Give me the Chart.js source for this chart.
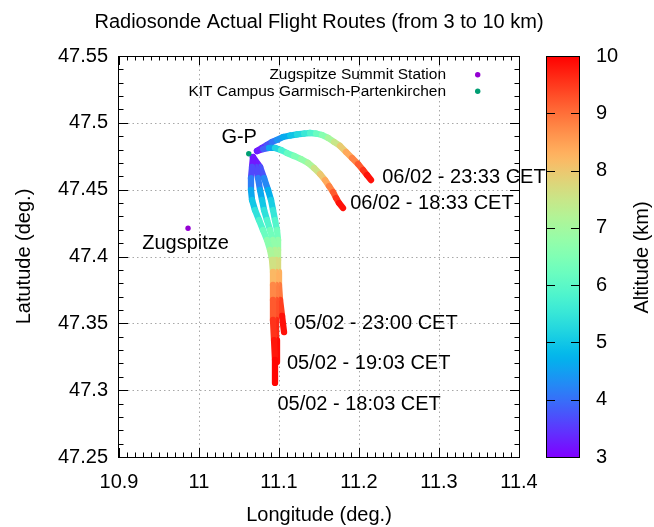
<!DOCTYPE html>
<html>
<head>
<meta charset="utf-8">
<title>Radiosonde Actual Flight Routes</title>
<script src="https://cdn.jsdelivr.net/npm/chart.js@4.4.1/dist/chart.umd.min.js"></script>
<style>
  html,body{margin:0;padding:0;background:#fff}
  #wrap{width:654px;height:527px}
</style>
</head>
<body>
<div id="wrap"><canvas id="c" width="654" height="527"></canvas></div>
<script>
// flight launched 05/02 18:03 CET
const f0502aLon = [11.0675, 11.0663, 11.0650, 11.0650, 11.0663, 11.0700, 11.0750, 11.0800, 11.0850, 11.0888, 11.0913, 11.0925, 11.0925, 11.0925, 11.0925, 11.0938, 11.0950, 11.0950];
const f0502aLat = [47.4744, 47.4670, 47.4587, 47.4498, 47.4423, 47.4348, 47.4273, 47.4198, 47.4124, 47.4049, 47.3974, 47.3884, 47.3787, 47.3675, 47.3525, 47.3375, 47.3226, 47.3054];
const f0502aAlt = [3.0, 3.4, 3.9, 4.4, 4.8, 5.2, 5.6, 6.0, 6.4, 6.9, 7.3, 7.9, 8.5, 9.0, 9.4, 9.7, 9.9, 10.0];

// 05/02 19:03 CET
const f0502bLon = [11.0675, 11.0713, 11.0738, 11.0763, 11.0788, 11.0813, 11.0850, 11.0888, 11.0925, 11.0950, 11.0963, 11.0963, 11.0963, 11.0963, 11.0963, 11.0963, 11.0975];
const f0502bLat = [47.4744, 47.4670, 47.4587, 47.4498, 47.4423, 47.4348, 47.4273, 47.4198, 47.4124, 47.4049, 47.3974, 47.3884, 47.3787, 47.3675, 47.3525, 47.3375, 47.3211];
const f0502bAlt = [3.0, 3.4, 3.9, 4.4, 4.8, 5.2, 5.6, 6.1, 6.5, 7.0, 7.4, 8.0, 8.6, 9.1, 9.5, 9.8, 10.0];

// 05/02 23:00 CET
const f0502cLon = [11.0675, 11.0763, 11.0813, 11.0863, 11.0900, 11.0925, 11.0950, 11.0975, 11.0988, 11.0988, 11.0988, 11.0988, 11.1000, 11.1013, 11.1038, 11.1063];
const f0502cLat = [47.4744, 47.4670, 47.4587, 47.4498, 47.4423, 47.4348, 47.4273, 47.4198, 47.4124, 47.4049, 47.3974, 47.3884, 47.3787, 47.3675, 47.3555, 47.3435];
const f0502cAlt = [3.0, 3.5, 4.0, 4.5, 4.9, 5.3, 5.7, 6.1, 6.5, 7.0, 7.4, 8.0, 8.6, 9.2, 9.7, 10.0];

// 06/02 18:33 CET
const f0602aLon = [11.0725, 11.0800, 11.0875, 11.0950, 11.1025, 11.1100, 11.1188, 11.1275, 11.1363, 11.1438, 11.1513, 11.1575, 11.1625, 11.1675, 11.1713, 11.1750, 11.1800];
const f0602aLat = [47.4789, 47.4804, 47.4812, 47.4812, 47.4797, 47.4774, 47.4752, 47.4729, 47.4700, 47.4662, 47.4617, 47.4572, 47.4527, 47.4483, 47.4438, 47.4400, 47.4363];
const f0602aAlt = [3.0, 3.5, 4.2, 4.9, 5.5, 6.0, 6.3, 6.6, 6.9, 7.3, 7.8, 8.2, 8.6, 9.0, 9.4, 9.7, 10.0];

// 06/02 23:33 CET
const f0602bLon = [11.0725, 11.0788, 11.0850, 11.0913, 11.0975, 11.1050, 11.1138, 11.1225, 11.1313, 11.1388, 11.1463, 11.1538, 11.1613, 11.1688, 11.1763, 11.1838, 11.1913, 11.1988, 11.2050, 11.2100, 11.2150];
const f0602bLat = [47.4789, 47.4812, 47.4834, 47.4857, 47.4872, 47.4894, 47.4905, 47.4913, 47.4920, 47.4924, 47.4920, 47.4909, 47.4887, 47.4857, 47.4827, 47.4782, 47.4737, 47.4692, 47.4647, 47.4610, 47.4572];
const f0602bAlt = [3.0, 3.3, 3.6, 3.9, 4.2, 4.5, 4.8, 5.1, 5.4, 5.7, 6.0, 6.4, 6.8, 7.3, 7.7, 8.2, 8.6, 9.0, 9.4, 9.7, 10.0];

const stationNames = ['Zugspitze Summit Station', 'KIT Campus Garmisch-Partenkirchen'];
const stationLon = [10.9863, 11.0622];
const stationLat = [47.4211, 47.4769];
const stationColors = ['#9400d3', '#009e73'];

const labelText = ['G-P', 'Zugspitze', '06/02 - 23:33 CET', '06/02 - 18:33 CET', '05/02 - 23:00 CET', '05/02 - 19:03 CET', '05/02 - 18:03 CET'];
const labelLon = [11.028, 10.929, 11.229, 11.189, 11.119, 11.110, 11.098];
const labelLat = [47.489, 47.410, 47.459, 47.440, 47.350, 47.320, 47.289];

const titleText = 'Radiosonde Actual Flight Routes (from 3 to 10 km)';
const altMin = 3, altMax = 10;

const FONT = '"Liberation Sans", Arial, sans-serif';
Chart.defaults.font.family = FONT;
Chart.defaults.color = '#000';

// gnuplot rgbformulae 33,13,10
function palette(z){
  let t = (z - altMin) / (altMax - altMin);
  t = Math.max(0, Math.min(1, t));
  const r = Math.min(1, Math.abs(2*t - 0.5));
  const g = Math.max(0, Math.sin(Math.PI*t));
  const b = Math.max(0, Math.cos(Math.PI*t/2));
  return 'rgb(' + Math.round(r*255) + ',' + Math.round(g*255) + ',' + Math.round(b*255) + ')';
}

const flights = [
  {lon: f0502aLon, lat: f0502aLat, alt: f0502aAlt},
  {lon: f0502bLon, lat: f0502bLat, alt: f0502bAlt},
  {lon: f0502cLon, lat: f0502cLat, alt: f0502cAlt},
  {lon: f0602aLon, lat: f0602aLat, alt: f0602aAlt},
  {lon: f0602bLon, lat: f0602bLat, alt: f0602bAlt}
];

const datasets = stationNames.map((n, i) => ({
  label: n,
  data: [{x: stationLon[i], y: stationLat[i]}],
  pointRadius: 2.7,
  pointBackgroundColor: stationColors[i],
  pointBorderWidth: 0,
  yAxisID: 'y',
  order: 0
}));

flights.forEach(f => {
  datasets.push({
    label: '',
    data: f.lon.map((x, i) => ({x: x, y: f.lat[i]})),
    showLine: true,
    pointRadius: 0,
    borderWidth: 6.3,
    borderCapStyle: 'round',
    borderJoinStyle: 'round',
    tension: 0,
    borderColor: palette(f.alt[0]),
    segment: {borderColor: ctx => palette((f.alt[ctx.p0DataIndex] + f.alt[ctx.p1DataIndex]) / 2)},
    yAxisID: 'y',
    order: 1
  });
});

function fmt(v){ return String(parseFloat(Number(v).toFixed(2))); }

function line(ctx, x0, y0, x1, y1){
  ctx.beginPath(); ctx.moveTo(x0, y0); ctx.lineTo(x1, y1); ctx.stroke();
}

// stop the side axes from reserving room for their label padding
function fixSide(w){
  return s => { s.width = w; s.paddingTop = 0; s.paddingBottom = 0; };
}

const furniture = {
  id: 'furniture',
  beforeDatasetsDraw(chart){
    const {ctx, chartArea: a, scales: {x, y}} = chart;
    ctx.save();
    ctx.strokeStyle = '#a8a8a8';
    ctx.lineWidth = 1;
    ctx.setLineDash([1.5, 3]);
    x.ticks.forEach((t, i) => {
      if (i === 0 || i === x.ticks.length - 1) return;
      const px = Math.round(x.getPixelForValue(t.value)) + 0.5;
      line(ctx, px, a.top, px, a.bottom);
    });
    y.ticks.forEach((t, i) => {
      if (i === 0 || i === y.ticks.length - 1) return;
      const py = Math.round(y.getPixelForValue(t.value)) + 0.5;
      line(ctx, a.left, py, a.right, py);
    });
    ctx.restore();
  },
  afterDatasetsDraw(chart){
    const {ctx, chartArea: a, scales: {x, y, z}} = chart;
    ctx.save();
    ctx.strokeStyle = '#000';
    ctx.lineWidth = 1;
    // frame
    ctx.strokeRect(a.left - 0.5, a.top + 0.5, a.right - a.left + 1, a.bottom - a.top);
    // ticks, major + minor, mirrored
    const nx = Math.round((x.max - x.min) / 0.01);
    for (let i = 0; i <= nx; i++){
      const px = Math.round(x.getPixelForValue(x.min + i*0.01)) + 0.5;
      const len = i % 10 === 0 ? 9 : 4.5;
      line(ctx, px, a.bottom, px, a.bottom - len);
      line(ctx, px, a.top, px, a.top + len);
    }
    const ny = Math.round((y.max - y.min) / 0.01);
    for (let i = 0; i <= ny; i++){
      const py = Math.round(y.getPixelForValue(y.min + i*0.01)) + 0.5;
      const len = i % 5 === 0 ? 9 : 4.5;
      line(ctx, a.left, py, a.left + len, py);
      line(ctx, a.right, py, a.right - len, py);
    }

    // title, centred over the plot
    ctx.fillStyle = '#000';
    ctx.font = '20px ' + FONT;
    ctx.textAlign = 'center';
    ctx.textBaseline = 'middle';
    ctx.fillText(titleText, (a.left + a.right) / 2, 22);

    // text labels
    ctx.textAlign = 'left';
    labelText.forEach((t, i) => {
      ctx.fillText(t, x.getPixelForValue(labelLon[i]), y.getPixelForValue(labelLat[i]));
    });

    // key
    ctx.font = '15.5px ' + FONT;
    ctx.textAlign = 'right';
    stationNames.forEach((n, i) => {
      const ty = a.top + 18.7 + i*16.6;
      ctx.fillStyle = '#000';
      ctx.fillText(n, a.right - 73, ty);
      ctx.fillStyle = stationColors[i];
      ctx.beginPath();
      ctx.arc(a.right - 41.3, ty, 2.7, 0, Math.PI*2);
      ctx.fill();
    });

    // colour box
    const cx0 = a.right + 27.5, cw = 33;
    const top = z.getPixelForValue(altMax), bot = z.getPixelForValue(altMin);
    const grad = ctx.createLinearGradient(0, bot, 0, top);
    for (let i = 0; i <= 50; i++) grad.addColorStop(i/50, palette(altMin + (altMax - altMin)*i/50));
    ctx.fillStyle = grad;
    ctx.fillRect(cx0, top, cw, bot - top);
    ctx.strokeRect(cx0, top + 0.5, cw, bot - top);
    z.ticks.forEach(t => {
      const py = Math.round(z.getPixelForValue(t.value)) + 0.5;
      line(ctx, cx0, py, cx0 + 8.5, py);
      line(ctx, cx0 + cw, py, cx0 + cw - 8.5, py);
    });
    ctx.fillStyle = '#000';
    ctx.font = '20px ' + FONT;
    ctx.textAlign = 'center';
    ctx.translate(642.5, (a.top + a.bottom) / 2 + 1);
    ctx.rotate(-Math.PI/2);
    ctx.fillText('Altitude (km)', 0, 0);
    ctx.restore();
  }
};

new Chart(document.getElementById('c'), {
  type: 'scatter',
  data: {datasets: datasets},
  options: {
    responsive: false,
    animation: false,
    events: [],
    devicePixelRatio: 1,
    layout: {padding: {top: 56, left: 0, right: 0, bottom: 0}},
    plugins: {
      legend: {display: false},
      tooltip: {enabled: false},
      title: {display: false}
    },
    scales: {
      x: {
        type: 'linear', position: 'bottom', min: 10.9, max: 11.4,
        grid: {display: false, drawTicks: false},
        border: {display: false},
        ticks: {stepSize: 0.1, padding: 13, font: {size: 20}, autoSkip: false, maxRotation: 0, callback: fmt},
        title: {display: true, text: 'Longitude (deg.)', font: {size: 20}, padding: {top: 0, bottom: 0}},
        afterFit: s => { s.height = 70; s.paddingLeft = 0; s.paddingRight = 0; }
      },
      y: {
        type: 'linear', position: 'left', min: 47.25, max: 47.55,
        grid: {display: false, drawTicks: false},
        border: {display: false},
        ticks: {stepSize: 0.05, padding: 11, font: {size: 20}, autoSkip: false, callback: fmt},
        title: {display: true, text: 'Latutude (deg.)', font: {size: 20}, padding: {top: 12, bottom: 0}},
        afterFit: fixSide(119)
      },
      z: {
        type: 'linear', axis: 'y', position: 'right', min: altMin, max: altMax,
        grid: {display: false, drawTicks: false},
        border: {display: false},
        ticks: {stepSize: 1, padding: 77, font: {size: 20}, autoSkip: false, callback: fmt},
        afterFit: fixSide(135)
      }
    }
  },
  plugins: [furniture]
});
</script>
</body>
</html>
